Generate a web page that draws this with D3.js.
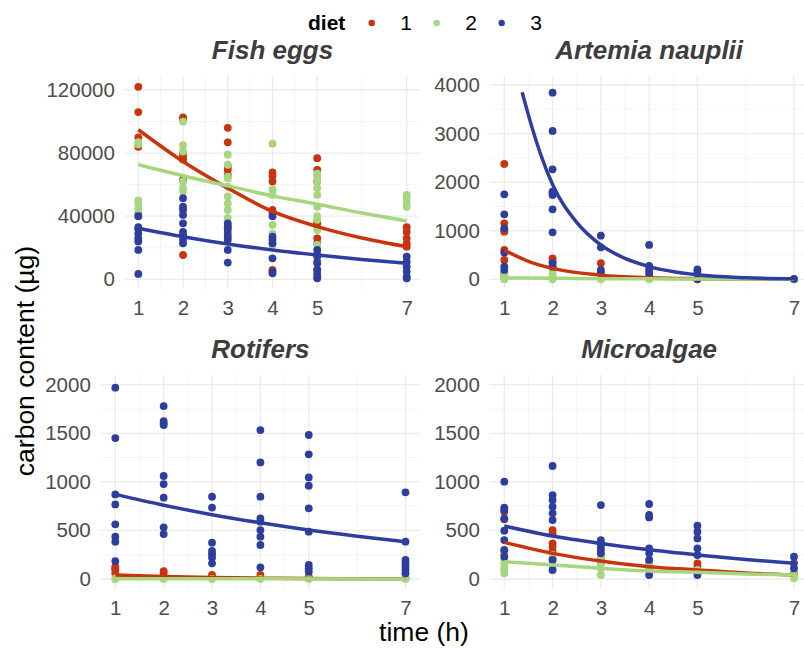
<!DOCTYPE html>
<html>
<head>
<meta charset="utf-8">
<script src="https://cdn.jsdelivr.net/npm/d3@7"></script>
<style>
  body { margin: 0; background: #fff; }
  text { font-family: "Liberation Sans", Arial, sans-serif; }
</style>
</head>
<body>
<script>
var width = 804;
var height = 648;

// sampling times (h) and diets
var times = [1, 2, 3, 4, 5, 7];
var minorTimes = [1.5, 2.5, 3.5, 4.5, 6];
var diets = ["1", "2", "3"];
var dietColors = ["#c8340d", "#a6d67e", "#2e3e9f"];

// Fish eggs: carbon content (µg) per time, one list per diet
var fishDiet1 = [
  [122000, 106000, 90000, 84000, 41000],
  [102600, 101500, 80000, 78000, 76000, 63000, 15400],
  [96000, 86800, 71500, 69400, 66000, 33000, 29000],
  [67700, 65600, 62000, 44000, 41900, 6000],
  [76800, 69400, 62000, 36600, 35500, 26000, 22800, 11200, 6000, 3800],
  [33000, 30000, 26000, 22800, 20700]
];
var fishDiet2 = [
  [87000, 85500, 50000, 47500, 44500, 40000],
  [100000, 85000, 81000, 62000, 58000, 55600],
  [79000, 72600, 65000, 64000, 58800, 52500, 48000, 44000, 38700],
  [86000, 57000, 53500, 34500, 29000, 21800],
  [67000, 65000, 62000, 57800, 53500, 46000, 40000, 37700, 31300, 21800],
  [53500, 51400, 48000, 46000]
];
var fishDiet3 = [
  [40000, 33000, 31700, 29000, 26000, 24000, 18600, 3400],
  [51400, 46000, 44000, 40800, 35500, 30000, 28000, 25000, 22800],
  [35500, 33400, 31300, 27000, 25000, 18600, 10600],
  [40000, 27000, 25000, 22800, 13300, 4900, 3800],
  [18600, 15400, 14400, 10000, 6000, 2000, 600],
  [14400, 11200, 8000, 4900, 1700, 600]
];
var fishFit1 = [[1, 94800], [2, 74700], [3, 57800], [4, 43000], [5, 33400], [6, 26200], [7, 20700]];
var fishFit2 = [[1, 72600], [2, 65600], [3, 59200], [4, 52900], [5, 47600], [6, 42000], [7, 37000]];
var fishFit3 = [[1, 32400], [2, 27000], [3, 22400], [4, 18600], [5, 15400], [6, 12600], [7, 10200]];

// Artemia nauplii
var artDiet1 = [
  [2375, 1153, 1016, 981, 604, 398, 137, 89],
  [432, 364, 260],
  [330],
  [60, 20],
  [15],
  [5]
];
var artDiet2 = [
  [124, 55, 20, 0],
  [192, 124, 55, 0],
  [20, 0],
  [10, 0],
  [5, 0],
  [0]
];
var artDiet3 = [
  [1750, 1338, 1050, 549, 261, 192],
  [3843, 3054, 2265, 1805, 1770, 1736, 1441, 968, 330, 260],
  [899, 659, 192, 137],
  [707, 275, 192, 124],
  [206, 158, 0],
  [7]
];
var artFit1 = [[1, 600], [1.5, 370], [2, 225], [3, 85], [4, 33], [5, 13], [6, 5], [7, 2]];
var artFit2 = [[1, 30], [2, 20], [3, 13], [4, 9], [5, 6], [7, 3]];
var artFit3 = [[1.37, 3850], [1.5, 3380], [1.75, 2580], [2, 1950], [2.5, 1170], [3, 706],
  [3.5, 430], [4, 262], [5, 92], [6, 32], [7, 10]];

// Rotifers
var rotDiet1 = [
  [127, 110, 93, 58],
  [82, 58],
  [41],
  [41],
  [24],
  [10]
];
var rotDiet2 = [[7, 0], [0], [0], [0], [0], [0]];
var rotDiet3 = [
  [1969, 1451, 871, 768, 563, 436, 384, 185],
  [1780, 1626, 1602, 1585, 1060, 977, 837, 532, 463],
  [847, 734, 374, 288, 254, 220, 161],
  [1533, 1200, 847, 624, 590, 504, 436, 350, 120],
  [1482, 1283, 1046, 960, 727, 487, 144, 110, 75],
  [892, 384, 196, 161, 127, 93, 58]
];
var rotFit1 = [[1, 40], [2, 25], [3, 15], [4, 9], [5, 5], [7, 2]];
var rotFit2 = [[1, 3], [7, 0]];
var rotFit3 = [[1, 871], [2, 760], [3, 662], [4, 578], [5, 504], [6, 440], [7, 384]];

// Microalgae
var micDiet1 = [
  [693, 614, 298, 264],
  [504, 470, 367, 333, 281, 213],
  [213, 161],
  [161, 120],
  [161, 127],
  [58]
];
var micDiet2 = [
  [281, 196, 161, 127, 93, 58],
  [247, 196, 144, 93],
  [247, 213, 161, 110, 41],
  [196, 161, 93],
  [93, 58],
  [41, 7]
];
var micDiet3 = [
  [1002, 734, 710, 624, 497, 401, 298, 230],
  [1163, 864, 813, 744, 676, 607, 196, 93],
  [761, 401, 374, 333, 298, 264],
  [772, 659, 634, 316, 264, 196, 41],
  [549, 487, 418, 316, 247, 41],
  [230, 161, 110]
];
var micFit1 = [[1, 377], [2, 264], [3, 185], [4, 127], [5, 93], [6, 62], [7, 41]];
var micFit2 = [[1, 178], [2, 144], [3, 110], [4, 82], [5, 69], [6, 52], [7, 40]];
var micFit3 = [[1, 545], [2, 442], [3, 365], [4, 300], [5, 247], [6, 200], [7, 162]];

// y ticks
var fishTicks = [0, 40000, 80000, 120000];
var fishMinor = [20000, 60000, 100000];
var artTicks = [0, 1000, 2000, 3000, 4000];
var artMinor = [500, 1500, 2500, 3500];
var smallTicks = [0, 500, 1000, 1500, 2000];
var smallMinor = [250, 750, 1250, 1750];

// panel layout (pixels)
var panels = [
  { title: "Fish eggs", pts: [fishDiet1, fishDiet2, fishDiet3], fits: [fishFit1, fishFit2, fishFit3],
    ticks: fishTicks, minor: fishMinor, xr: [138.3, 406.7], yRef: 120000, yr: [279.3, 90], top: 76, bottom: 289 },
  { title: "Artemia nauplii", pts: [artDiet1, artDiet2, artDiet3], fits: [artFit1, artFit2, artFit3],
    ticks: artTicks, minor: artMinor, xr: [504.3, 794], yRef: 4000, yr: [279.3, 85], top: 76, bottom: 289 },
  { title: "Rotifers", pts: [rotDiet1, rotDiet2, rotDiet3], fits: [rotFit1, rotFit2, rotFit3],
    ticks: smallTicks, minor: smallMinor, xr: [115.3, 405.5], yRef: 2000, yr: [579, 384.7], top: 375, bottom: 589 },
  { title: "Microalgae", pts: [micDiet1, micDiet2, micDiet3], fits: [micFit1, micFit2, micFit3],
    ticks: smallTicks, minor: smallMinor, xr: [504.3, 794], yRef: 2000, yr: [579, 384.7], top: 375, bottom: 589 }
];

var svg = d3.select("body").append("svg")
  .attr("width", width).attr("height", height);

panels.forEach(function (p) {
  var x = d3.scaleLinear().domain([1, 7]).range(p.xr);
  var y = d3.scaleLinear().domain([0, p.yRef]).range(p.yr);
  var left = x(0.7), right = x(7.3);
  var g = svg.append("g");

  // grid
  g.selectAll(".ymin").data(p.minor).enter().append("line")
    .attr("x1", left).attr("x2", right).attr("y1", y).attr("y2", y)
    .style("stroke", "#f2f2f2").style("stroke-width", 0.8);
  g.selectAll(".xmin").data(minorTimes).enter().append("line")
    .attr("x1", x).attr("x2", x).attr("y1", p.top).attr("y2", p.bottom)
    .style("stroke", "#f2f2f2").style("stroke-width", 0.8);
  g.selectAll(".ymaj").data(p.ticks).enter().append("line")
    .attr("x1", left).attr("x2", right).attr("y1", y).attr("y2", y)
    .style("stroke", "#ebebeb").style("stroke-width", 1.3);
  g.selectAll(".xmaj").data(times).enter().append("line")
    .attr("x1", x).attr("x2", x).attr("y1", p.top).attr("y2", p.bottom)
    .style("stroke", "#ebebeb").style("stroke-width", 1.3);

  // axes
  var ya = g.append("g").attr("transform", "translate(" + left + ",0)")
    .call(d3.axisLeft(y).tickValues(p.ticks).tickSize(0).tickPadding(10).tickFormat(d3.format("d")));
  var xa = g.append("g").attr("transform", "translate(0," + p.bottom + ")")
    .call(d3.axisBottom(x).tickValues(times).tickSize(0).tickPadding(11.5).tickFormat(d3.format("d")));
  [ya, xa].forEach(function (a) {
    a.select(".domain").remove();
    a.selectAll("text").style("font-size", "20.5px").style("fill", "#4d4d4d")
      .style("font-family", "'Liberation Sans', Arial, sans-serif");
  });

  // points
  p.pts.forEach(function (series, di) {
    var flat = [];
    series.forEach(function (vals, ti) {
      vals.forEach(function (v) { flat.push([times[ti], v]); });
    });
    g.selectAll(".pt" + di).data(flat).enter().append("circle")
      .attr("cx", function (d) { return x(d[0]); })
      .attr("cy", function (d) { return y(d[1]); })
      .attr("r", 3.9)
      .style("fill", dietColors[di]);
  });

  // fitted curves
  var line = d3.line()
    .x(function (d) { return x(d[0]); })
    .y(function (d) { return y(d[1]); })
    .curve(d3.curveMonotoneX);
  p.fits.forEach(function (fit, di) {
    g.append("path").attr("d", line(fit))
      .style("fill", "none").style("stroke", dietColors[di]).style("stroke-width", 3.5);
  });

  // title
  g.append("text")
    .attr("x", (left + right) / 2).attr("y", p.top - 17.5)
    .attr("text-anchor", "middle")
    .style("font-size", "26px").style("font-weight", "bold").style("font-style", "italic")
    .style("fill", "#3d3d3d")
    .text(p.title);
});

// axis titles
svg.append("text")
  .attr("x", 424).attr("y", 641)
  .attr("text-anchor", "middle")
  .style("font-size", "26.5px").style("fill", "#000")
  .text("time (h)");
svg.append("text")
  .attr("transform", "translate(33.5,361) rotate(-90)")
  .attr("text-anchor", "middle")
  .style("font-size", "26.5px").style("fill", "#000")
  .text("carbon content (µg)");

// legend
var legend = svg.append("g");
legend.append("text").attr("x", 308).attr("y", 30)
  .style("font-size", "21px").style("font-weight", "bold").text("diet");
var legX = [371.7, 436.7, 501.7];
legend.selectAll("circle").data(diets).enter().append("circle")
  .attr("cx", function (d, i) { return legX[i]; }).attr("cy", 23)
  .attr("r", 3.2)
  .style("fill", function (d, i) { return dietColors[i]; });
legend.selectAll(".lab").data(diets).enter().append("text")
  .attr("x", function (d, i) { return legX[i] + 28.5; }).attr("y", 30)
  .style("font-size", "21px").style("fill", "#000")
  .text(function (d) { return d; });
</script>
</body>
</html>
